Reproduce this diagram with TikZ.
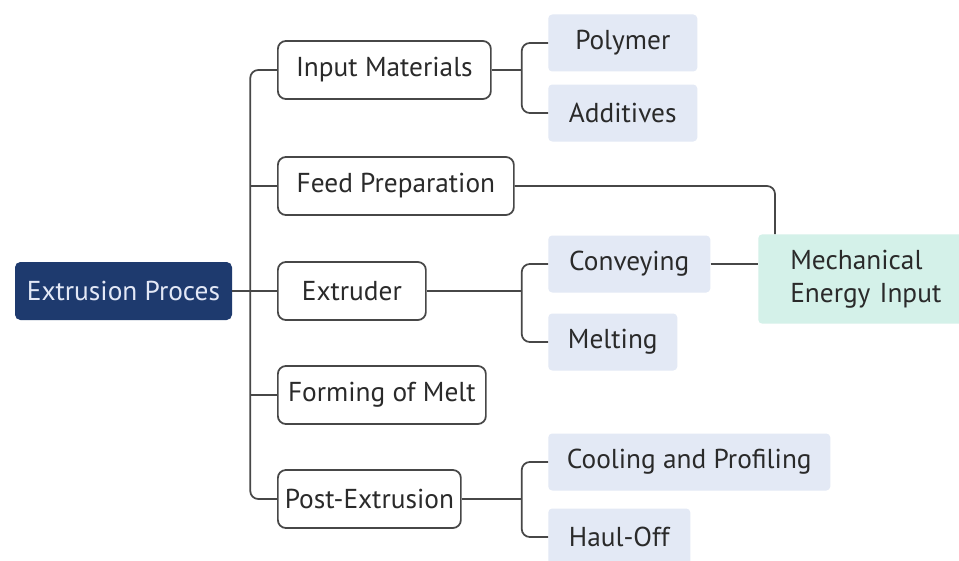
\documentclass[tikz,border=0pt]{standalone}
\usepackage{fontspec}
\setmainfont{PT Sans}
\usetikzlibrary{positioning}
\definecolor{navy}{HTML}{1E3A6E}
\definecolor{rootText}{HTML}{E3E8F6}
\definecolor{subFill}{HTML}{E3E9F5}
\definecolor{mechFill}{HTML}{D4F1E9}
\definecolor{lineGray}{HTML}{474747}
\definecolor{txtGray}{HTML}{2A2A2A}
\tikzset{
  rootbox/.style={fill=navy,text=rootText,rounded corners=4pt,minimum height=43.5pt,
    minimum width=162.75pt,font=\fontsize{20.5}{24}\selectfont},
  stepbox/.style={draw=lineGray,line width=1.3pt,fill=white,text=txtGray,rounded corners=6pt,
    minimum height=43.5pt,anchor=west,inner xsep=2pt,font=\fontsize{20.5}{24}\selectfont},
  subbox/.style={fill=subFill,text=txtGray,rounded corners=3pt,minimum height=42.75pt,
    anchor=west,font=\fontsize{20.5}{24}\selectfont},
  mechbox/.style={fill=mechFill,text=txtGray,rounded corners=3pt,minimum height=67pt,
    anchor=west,text width=135pt,inner xsep=24pt,align=left,font=\fontsize{20.5}{25}\selectfont},
  link/.style={draw=lineGray,line width=1.3pt,rounded corners=6pt}
}
\begin{document}
\begin{tikzpicture}[x=0.75pt,y=-0.75pt]
  \useasboundingbox[fill=white] (0,0) rectangle (959,560);
  % root and first level
  \node[rootbox] (root) at (123.5,291) {Extrusion Proces};
  \node[stepbox,minimum width=159.75pt] (inp)  at (277,70)  {Input Materials};
  \node[stepbox,minimum width=177pt]    (feed) at (277,186) {Feed Preparation};
  \node[stepbox,minimum width=111pt]    (ext)  at (277,291) {Extruder};
  \node[stepbox,minimum width=156pt]    (form) at (277,395) {Forming of Melt};
  \node[stepbox,minimum width=137.25pt] (post) at (277,499) {Post-Extrusion};
  % second level
  \node[subbox,minimum width=111.75pt] (poly) at (548,43)  {Polymer};
  \node[subbox,minimum width=111.75pt] (add)  at (548,113) {Additives};
  \node[subbox,minimum width=121.5pt]  (conv) at (548,264) {Conveying};
  \node[subbox,minimum width=96.75pt]  (melt) at (548,342) {Melting};
  \node[subbox,minimum width=211.5pt]  (cool) at (548,462) {Cooling and Profiling};
  \node[subbox,minimum width=106.5pt]  (haul) at (548,537) {Haul-Off};
  \node[mechbox] (mech) at (758,279) {Mechanical\\Energy Input};
  % trunk
  \coordinate (tr) at ([xshift=13.5pt]root.east);
  \draw[link] (root.east) -- (tr);
  \draw[link] (inp.west) -| (tr) |- (post.west);
  \foreach \n in {feed,ext,form}
    \draw[link] (\n.west) -- (\n.west -| tr);
  % branches
  \coordinate (jb) at ([xshift=22.5pt]inp.east);
  \draw[link] (inp.east) -- (jb);
  \draw[link] (poly.west) -| (jb) |- (add.west);
  \draw[link] (ext.east) -- (ext.east -| jb);
  \draw[link] (conv.west) -| (ext.east -| jb) |- (melt.west);
  \draw[link] (post.east) -- (post.east -| jb);
  \draw[link] (cool.west) -| (post.east -| jb) |- (haul.west);
  % links to energy input
  \draw[link] (feed.east) -| ([xshift=12.75pt]mech.north west);
  \draw[link] (conv.east) -- (conv.east -| mech.west);
\end{tikzpicture}
\end{document}
